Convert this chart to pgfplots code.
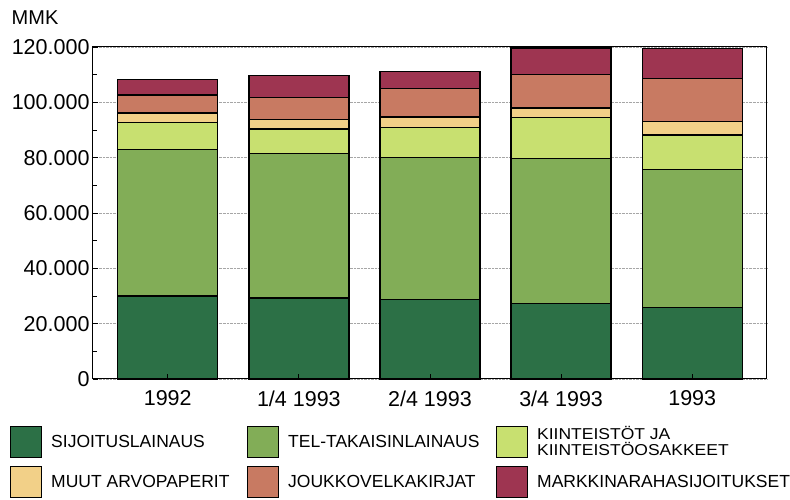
\documentclass[border=0pt]{standalone}
\usepackage{pgfplots}
\pgfplotsset{compat=1.18}
\usepackage{fontspec}
\setmainfont{Liberation Sans}
\definecolor{csij}{HTML}{2C7046}
\definecolor{ctel}{HTML}{82AD57}
\definecolor{ckii}{HTML}{C8E070}
\definecolor{cmuut}{HTML}{F2D088}
\definecolor{cjouk}{HTML}{C87A62}
\definecolor{cmark}{HTML}{9E3551}
\pgfplotsset{
  /pgfplots/layers/gridbelow/.define layer set={
    axis background,axis grid,main,axis ticks,axis lines,
    axis tick labels,axis descriptions,axis foreground
  }{/pgfplots/layers/standard},
  mybar/.style={fill=#1, draw=black, line width=1.3pt,
    legend image code/.code={\draw[fill=#1,draw=black,line width=1pt] (0bp,-15.5bp) rectangle (31bp,15.5bp);}},
}
\begin{document}
\begin{tikzpicture}
\begin{axis}[
  set layers=gridbelow,
  scale only axis,
  width=674bp, height=332bp,
  ybar stacked, bar width=100bp,
  xmin=-0.57, xmax=4.57,
  ymin=0, ymax=120000,
  xtick={0,1,2,3,4},
  xticklabels={1992,1/4 1993,2/4 1993,3/4 1993,1993},
  ytick={0,20000,40000,60000,80000,100000,120000},
  minor y tick num=1,
  scaled y ticks=false,
  yticklabel style={/pgf/number format/.cd, fixed, 1000 sep={.}, assume math mode=true},
  xticklabel style={yshift=-8bp},
  tick align=inside,
  xtick pos=lower, ytick pos=left,
  major tick length=5bp, minor tick length=4bp,
  tick style={black, line width=0.8pt},
  axis line style={black, line width=1pt},
  ymajorgrids,
  grid style={densely dotted, gray!70, line width=0.7pt},
  ticklabel style={font=\fontsize{21.5bp}{24bp}\selectfont},
  legend columns=3,
  legend cell align=left,
  legend style={at={(rel axis cs:-0.1231,-0.141)}, anchor=north west, draw=none, fill=none,
    inner sep=0pt, nodes={inner sep=0pt}, font=\fontsize{17.5bp}{14bp}\selectfont,
    /tikz/every odd column/.append style={column sep=9bp},
    /tikz/every even column/.append style={column sep=0bp},
    row sep=8bp},
  clip=false,
]
\addplot[mybar=csij] coordinates {(0,30000) (1,29300) (2,28800) (3,27200) (4,25800)};
\addplot[mybar=ctel] coordinates {(0,53000) (1,52200) (2,51200) (3,52400) (4,49900)};
\addplot[mybar=ckii] coordinates {(0,9600) (1,8900) (2,11000) (3,15000) (4,12500)};
\addplot[mybar=cmuut] coordinates {(0,3500) (1,3400) (2,3700) (3,3300) (4,4900)};
\addplot[mybar=cjouk] coordinates {(0,6600) (1,8000) (2,10300) (3,12200) (4,15400)};
\addplot[mybar=cmark] coordinates {(0,5500) (1,8000) (2,6100) (3,9500) (4,11000)};
\addlegendentry{\makebox[196bp][l]{SIJOITUSLAINAUS}}
\addlegendentry{\makebox[208bp][l]{TEL-TAKAISINLAINAUS}}
\addlegendentry{\scalebox{1}[0.9]{\shortstack[l]{KIINTEISTÖT JA\\KIINTEISTÖOSAKKEET}}}
\addlegendentry{\makebox[196bp][l]{MUUT ARVOPAPERIT}}
\addlegendentry{\makebox[208bp][l]{JOUKKOVELKAKIRJAT}}
\addlegendentry{MARKKINARAHASIJOITUKSET}
\node[font=\fontsize{20bp}{24bp}\selectfont] at (rel axis cs:-0.086,1.087) {MMK};
\end{axis}
\path (-93bp,-121bp) rectangle (697bp,379bp);
\end{tikzpicture}
\end{document}
